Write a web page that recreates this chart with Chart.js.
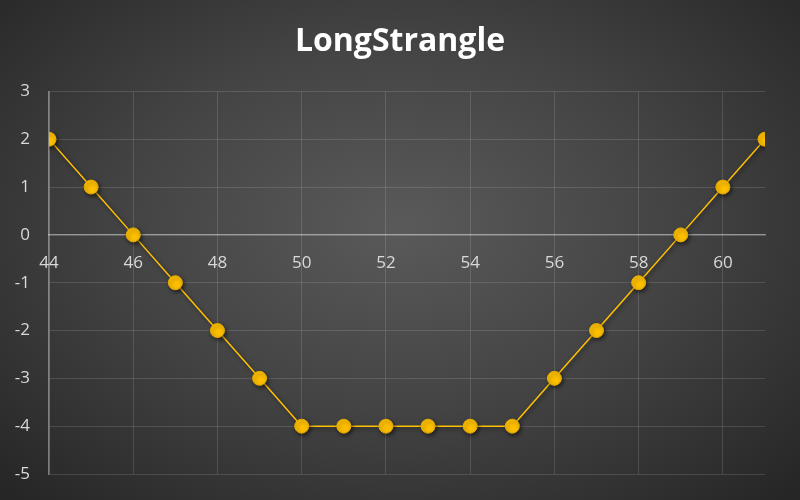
<!DOCTYPE html>
<html>
<head>
<meta charset="utf-8">
<script src="https://cdn.jsdelivr.net/npm/chart.js@4.4.1/dist/chart.umd.min.js"></script>
<style>
  html, body { margin: 0; padding: 0; }
  body {
    width: 800px; height: 500px; overflow: hidden;
    background: radial-gradient(ellipse 70% 75% at 50% 45%, #5a5a5a 0%, #434343 50%, #262626 100%);
  }
  #wrap { width: 800px; height: 500px; }
</style>
</head>
<body>
<div id="wrap"><canvas id="payoffChart" width="800" height="500"></canvas></div>
<script>
// strike prices and payoff of the long strangle
const strikes = [44, 45, 46, 47, 48, 49, 50, 51, 52, 53, 54, 55, 56, 57, 58, 59, 60, 61];
const payoff  = [2, 1, 0, -1, -2, -3, -4, -4, -4, -4, -4, -4, -3, -2, -1, 0, 1, 2];
const xTicks  = [44, 46, 48, 50, 52, 54, 56, 58, 60];
const yTicks  = [-5, -4, -3, -2, -1, 0, 1, 2, 3];

const gold = "#FFC000";
const gridCol = "rgba(255,255,255,0.13)";
const axisCol = "rgba(255,255,255,0.38)";
const labelCol = "#d9d9d9";

const pointShadow = {
  id: "pointShadow",
  beforeDatasetsDraw(chart) {
    const c = chart.ctx;
    c.save();
    c.shadowColor = "rgba(0,0,0,0.55)";
    c.shadowBlur = 4;
    c.shadowOffsetX = 1.5;
    c.shadowOffsetY = 2;
  },
  afterDatasetsDraw(chart) { chart.ctx.restore(); }
};

// centre the title on the whole canvas, not on the padded area
const centreTitle = {
  id: "centreTitle",
  afterLayout(chart) {
    const t = chart.titleBlock;
    if (!t) return;
    t.left = 0; t.right = chart.width; t.width = chart.width;
  }
};

window.addEventListener("DOMContentLoaded", () => {
  const points = strikes.map((s, i) => ({ x: s, y: payoff[i] }));
  new Chart(document.getElementById("payoffChart"), {
    type: "line",
    data: {
      datasets: [{
        label: "LongStrangle",
        data: points,
        borderColor: gold,
        borderWidth: 1.5,
        backgroundColor: gold,
        pointBackgroundColor: gold,
        pointBorderColor: "#e6ac00",
        pointBorderWidth: 1,
        pointRadius: 7,
        tension: 0
      }]
    },
    options: {
      responsive: false,
      animation: false,
      layout: { padding: { top: 23, right: 35, bottom: 26, left: 0 } },
      plugins: {
        legend: { display: false },
        tooltip: { enabled: false },
        title: {
          display: true,
          text: "LongStrangle",
          color: "#ffffff",
          font: { family: "'Open Sans', sans-serif", size: 32, weight: "bold" },
          padding: { top: 0, bottom: 30 }
        }
      },
      scales: {
        x: {
          type: "linear",
          position: { y: 0 },
          min: 44, max: 61,
          afterBuildTicks: s => { s.ticks = xTicks.map(v => ({ value: v })); },
          afterFit: s => { s.paddingTop = 0; s.paddingBottom = 0; },
          grid: { color: gridCol, drawTicks: false },
          border: { color: axisCol, width: 1.5 },
          ticks: { color: labelCol, padding: 18, font: { family: "'Open Sans', sans-serif", size: 17 } }
        },
        y: {
          min: -5, max: 3,
          afterBuildTicks: s => { s.ticks = yTicks.map(v => ({ value: v })); },
          afterFit: s => { s.width = 49; s.paddingBottom = 0; },
          grid: { color: gridCol, drawTicks: false },
          border: { color: axisCol, width: 1.5 },
          ticks: { color: labelCol, padding: 19, font: { family: "'Open Sans', sans-serif", size: 17 } }
        }
      }
    },
    plugins: [pointShadow, centreTitle]
  });
});
</script>
</body>
</html>
